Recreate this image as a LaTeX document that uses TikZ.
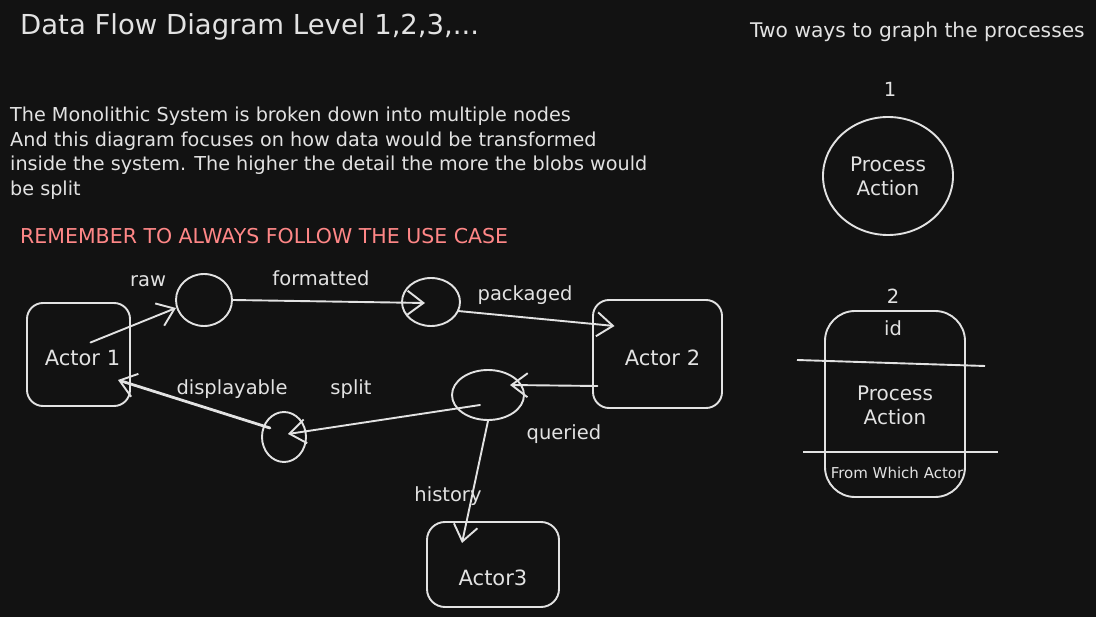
\documentclass[tikz,border=0pt]{standalone}
\usepackage{fontspec}
\setmainfont{DejaVu Sans}
\usetikzlibrary{arrows.meta,calc,shapes.geometric}
\definecolor{bg}{HTML}{121212}
\definecolor{ink}{HTML}{E2E2E2}
\definecolor{warn}{HTML}{FF8787}
\begin{document}
\begin{tikzpicture}[x=1pt,y=-1pt,
  every node/.style={text=ink},
  stroke/.style={draw=ink, line width=1.9pt},
  actor/.style={stroke, rounded corners=16pt, font=\fontsize{21}{25}\selectfont, text depth=5pt},
  blob/.style={stroke, ellipse, inner sep=0pt},
  flow/.style={draw=ink, line width=1.9pt, line cap=round,
    -{Straight Barb[length=16pt,width=24pt,line width=1.9pt]}},
  lbl/.style={font=\fontsize{19.5}{23}\selectfont},
  body/.style={font=\fontsize{19.2}{24.5}\selectfont, align=left, inner sep=0pt},
]
\fill[bg] (0,0) rectangle (1096,617);
\useasboundingbox (0,0) rectangle (1096,617);

% headings
\node[anchor=west, inner sep=0pt, font=\fontsize{27.5}{32}\selectfont] (title) at (20,27) {Data Flow Diagram Level 1,2,3,...};
\node[anchor=west, inner sep=0pt, font=\fontsize{20.2}{24}\selectfont] (two) at (750,32) {Two ways to graph the processes};
\node[body, anchor=north west] (para) at (10,107) {The Monolithic System is broken down into multiple nodes\\And this diagram focuses on how data would be transformed\\inside the system. The higher the detail the more the blobs would\\be split};
\node[anchor=west, inner sep=0pt, text=warn, font=\fontsize{20.5}{24}\selectfont] (warnnote) at (20,236) {REMEMBER TO ALWAYS FOLLOW THE USE CASE};

% left diagram
\node[actor, minimum width=103pt, minimum height=103pt, text height=28pt] (a1) at (78.5,354.5) {\hspace{8pt}Actor 1};
\node[actor, minimum width=129pt, minimum height=108pt, text height=28pt] (a2) at (657.5,354) {\hspace{10pt}Actor 2};
\node[actor, minimum width=132pt, minimum height=85pt, rounded corners=18pt, text height=46pt] (a3) at (493,564.5) {Actor3\hspace{10pt}};
\node[blob, minimum width=56pt, minimum height=52pt] (p1) at (204,300) {};
\node[blob, minimum width=58pt, minimum height=48pt] (p2) at (431,302) {};
\node[blob, minimum width=72pt, minimum height=50pt] (p3) at (488,395) {};
\node[blob, minimum width=44pt, minimum height=50pt] (p4) at (284,437) {};

\draw[flow] ($(a1)+(12,-12)$) -- ($(p1)+(-28,8)$);
\draw[flow] (p1.east) -- ($(p2)+(-6,1)$);
\draw[flow] ($(p2)+(27,9)$) -- ($(a2)+(-43,-28)$);
\draw[flow] ($(a2)+(-60,32)$) -- ($(p3)+(22,-10)$);
\draw[flow] ($(p3)+(-8,10)$) -- ($(p4)+(4,-3)$);
\draw[flow, line width=2.8pt] ($(p4)+(-14,-9)$) -- ($(a1)+(39.5,25.5)$);
\draw[flow] (p3.south) -- ($(a3)+(-31,-21.5)$);

\node[lbl] (lraw) at (148,281) {raw};
\node[lbl] (lfmt) at (321,278) {formatted};
\node[lbl] (lpkg) at (525,295) {packaged};
\node[lbl] (lsplit) at (351,389) {split};
\node[lbl] (ldisp) at (232,389) {displayable};
\node[lbl] (lq) at (564,434) {queried};
\node[lbl] (lhist) at (448,496) {history};

% right: two ways
\node[lbl] (n1) at (890,89) {1};
\node[blob, minimum width=130pt, minimum height=118pt, align=center, font=\fontsize{20}{24}\selectfont] (proc1) at (888,176) {Process\\Action};
\node[lbl] (n2) at (893,296) {2};
\node[stroke, rounded corners=30pt, minimum width=140pt, minimum height=186pt] (proc2) at (895,404) {};
\draw[stroke] (797,360) -- (985,366);
\draw[stroke] (803,452) -- (998,452);
\node[lbl] (pid) at (893,328) {id};
\node[align=center, font=\fontsize{20}{24}\selectfont] (pact) at (895,405) {Process\\Action};
\node[font=\fontsize{15}{18}\selectfont] (pfrom) at (897,473) {From Which Actor};
\end{tikzpicture}
\end{document}
